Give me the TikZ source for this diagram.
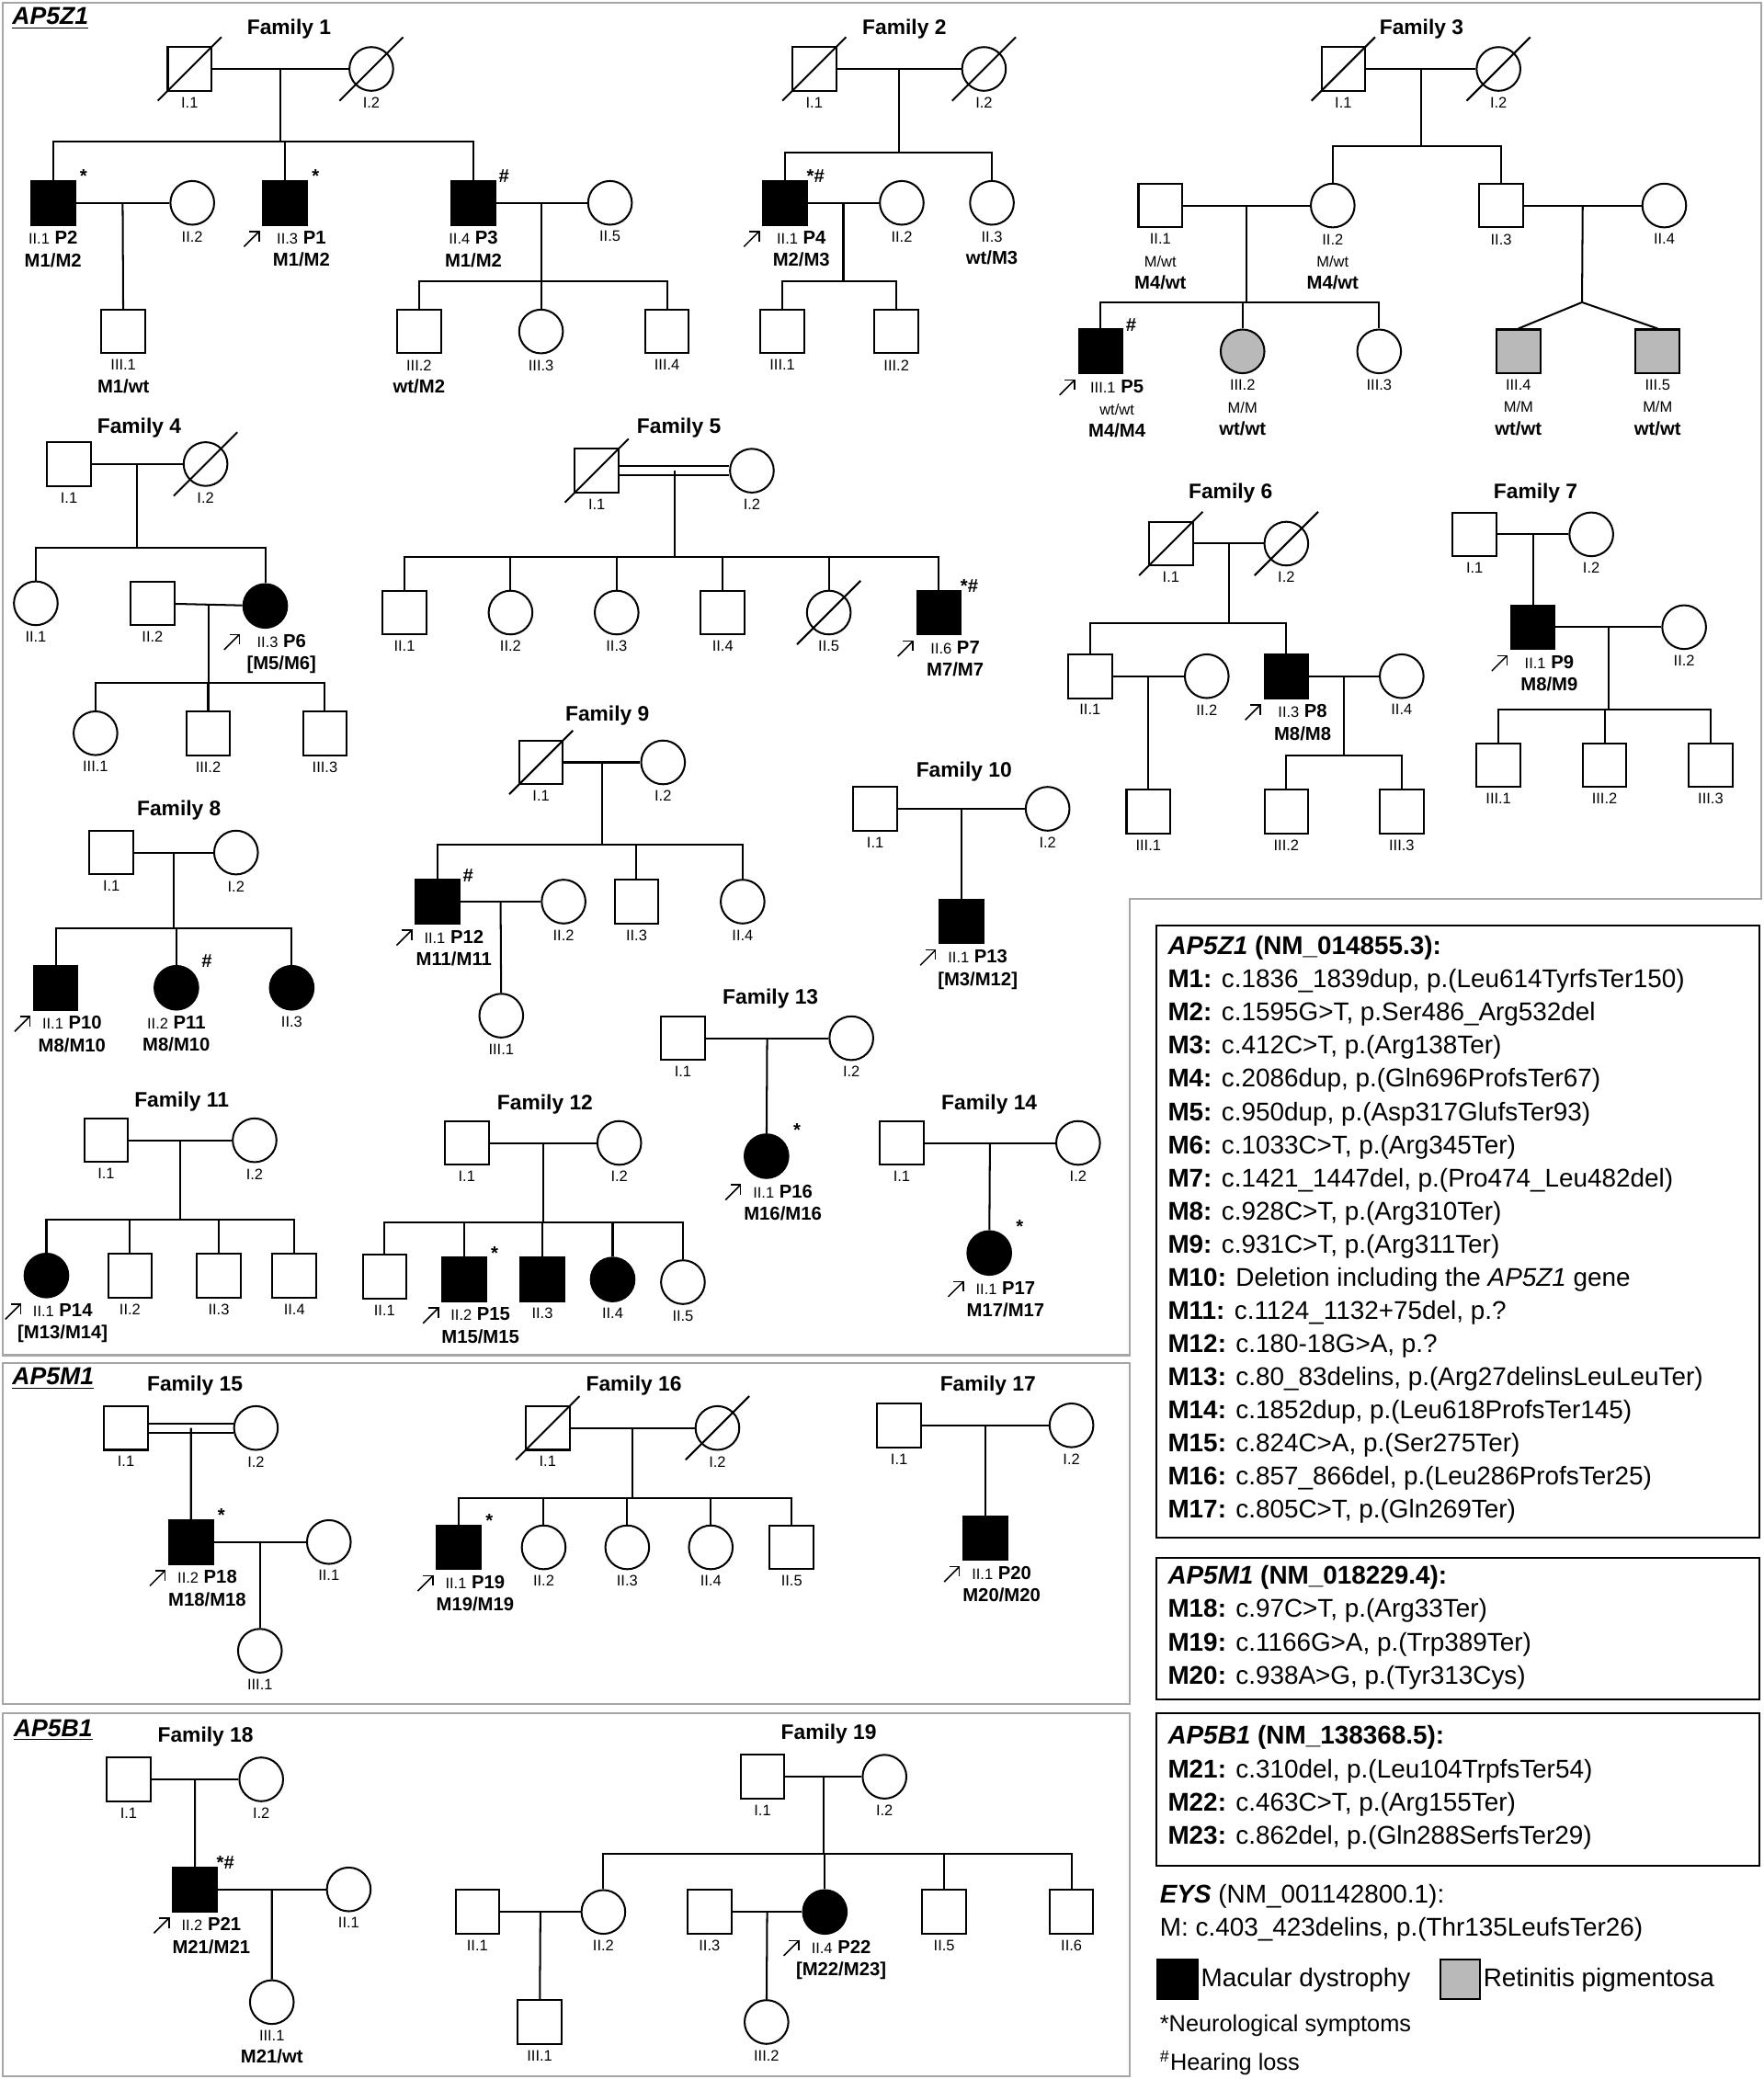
\documentclass[tikz,border=0pt]{standalone}
\usepackage{fontspec}
\setmainfont{Liberation Sans}
\usetikzlibrary{calc,arrows.meta}
\newcommand\gn[1]{{\fontsize{6.5}{8}\selectfont\mdseries #1}}
\newcommand\ind[5]{\node[#2] (#1) at (#3,#4) {}; \node[lbl] (#1t) at ([yshift=-1pt]#1.south) {#5};}
\newcommand\pind[5]{\node[#2] (#1) at (#3,#4) {}; \node[lbl] (#1t) at ([xshift=7pt,yshift=-1pt]#1.south) {#5};
  \draw[-{Straight Barb[length=3pt]},line width=0.6pt] ($(#1)+(-31,33)$) -- ($(#1)+(-19,21)$);}
\newcommand\dead[1]{\draw ($(#1)+(-24,24)$) -- ($(#1)+(24,-24)$);}
\newcommand\couple[3]{\draw (#1) -- (#2); \coordinate (#3) at ($(#1)!.5!(#2)$);}
\newcommand\kids[3]{\draw (#1) -- (#1|-0,#2); \foreach \c in {#3} {\draw (\c.north) |- (#1|-0,#2);}}
\newcommand\mk[2]{\node[mkr] at ($(#1)+(23,-20)$) {#2};}
\begin{document}
\begin{tikzpicture}[x=0.02cm,y=-0.02cm,line width=0.8pt]
  \tikzset{
    m/.style={rectangle,draw,fill=white,minimum size=0.66cm,inner sep=0},
    f/.style={circle,draw,fill=white,minimum size=0.66cm,inner sep=0},
    am/.style={m,fill=black}, af/.style={f,fill=black},
    rm/.style={m,fill=gray!55}, rf/.style={f,fill=gray!55},
    lbl/.style={anchor=north,align=center,inner sep=1pt,font=\fontsize{8}{9.6}\selectfont\bfseries},
    ttl/.style={font=\fontsize{9}{11}\selectfont\bfseries},
    mkr/.style={font=\fontsize{8}{9}\selectfont\bfseries,inner sep=0},
    pnl/.style={font=\fontsize{10.5}{12}\selectfont\bfseries\itshape},
    leg/.style={anchor=west,inner sep=0,font=\fontsize{11}{13}\selectfont},
    frame/.style={draw=gray!70,line width=1pt}
  }
  \useasboundingbox (0,0) rectangle (1330,1568);
  % panels
  \draw[frame] (2,2) -- (1328,2) -- (1328,678) -- (852,678) -- (852,1022) -- (2,1022) -- cycle;
  \draw[frame] (2,1028) rectangle (852,1285);
  \draw[frame] (2,1292) rectangle (852,1566);
  \node[pnl] at (38,14) {\underline{AP5Z1}};
  \node[pnl] at (40,1040) {\underline{AP5M1}};
  \node[pnl] at (40,1305) {\underline{AP5B1}};

  % Family 1
  \node[ttl] at (218,22) {Family 1};
  \ind{F1i1}{m}{143}{52}{\gn{I.1}} \ind{F1i2}{f}{280}{52}{\gn{I.2}}
  \dead{F1i1} \dead{F1i2} \couple{F1i1}{F1i2}{F1m}
  \ind{F1ii1}{am}{40}{153}{\gn{II.1} P2\\M1/M2} \mk{F1ii1}{*}
  \ind{F1ii2}{f}{145}{153}{\gn{II.2}}
  \pind{F1ii3}{am}{215}{153}{\gn{II.3} P1\\M1/M2} \mk{F1ii3}{*}
  \ind{F1ii4}{am}{357}{153}{\gn{II.4} P3\\M1/M2} \mk{F1ii4}{\#}
  \ind{F1ii5}{f}{460}{153}{\gn{II.5}}
  \kids{F1m}{107}{F1ii1,F1ii3,F1ii4}
  \couple{F1ii1}{F1ii2}{F1m2}
  \ind{F1iii1}{m}{93}{250}{\gn{III.1}\\M1/wt}
  \draw (F1m2) -- (F1iii1);
  \couple{F1ii4}{F1ii5}{F1m3}
  \ind{F1iii2}{m}{316}{250}{\gn{III.2}\\wt/M2} \ind{F1iii3}{f}{408}{250}{\gn{III.3}} \ind{F1iii4}{m}{503}{250}{\gn{III.4}}
  \kids{F1m3}{212}{F1iii2,F1iii3,F1iii4}

  % Family 2
  \node[ttl] at (682,22) {Family 2};
  \ind{F2i1}{m}{614}{52}{\gn{I.1}} \ind{F2i2}{f}{742}{52}{\gn{I.2}}
  \dead{F2i1} \dead{F2i2} \couple{F2i1}{F2i2}{F2m}
  \pind{F2ii1}{am}{592}{153}{\gn{II.1} P4\\M2/M3} \mk{F2ii1}{*\#}
  \ind{F2ii2}{f}{680}{153}{\gn{II.2}}
  \ind{F2ii3}{f}{748}{153}{\gn{II.3}\\wt/M3}
  \kids{F2m}{115}{F2ii1,F2ii3}
  \couple{F2ii1}{F2ii2}{F2m2}
  \ind{F2iii1}{m}{590}{250}{\gn{III.1}} \ind{F2iii2}{m}{676}{250}{\gn{III.2}}
  \kids{F2m2}{212}{F2iii1,F2iii2}

  % Family 3
  \node[ttl] at (1072,22) {Family 3};
  \ind{F3i1}{m}{1013}{52}{\gn{I.1}} \ind{F3i2}{f}{1130}{52}{\gn{I.2}}
  \dead{F3i1} \dead{F3i2} \couple{F3i1}{F3i2}{F3m}
  \ind{F3ii1}{m}{875}{155}{\gn{II.1}\\\gn{M/wt}\\M4/wt}
  \ind{F3ii2}{f}{1005}{155}{\gn{II.2}\\\gn{M/wt}\\M4/wt}
  \ind{F3ii3}{m}{1132}{155}{\gn{II.3}} \ind{F3ii4}{f}{1255}{155}{\gn{II.4}}
  \kids{F3m}{110}{F3ii2,F3ii3}
  \couple{F3ii1}{F3ii2}{F3m2}
  \pind{F3iii1}{am}{830}{265}{\gn{III.1} P5\\\gn{wt/wt}\\M4/M4} \mk{F3iii1}{\#}
  \ind{F3iii2}{rf}{937}{265}{\gn{III.2}\\\gn{M/M}\\wt/wt}
  \ind{F3iii3}{f}{1040}{265}{\gn{III.3}}
  \kids{F3m2}{228}{F3iii1,F3iii2,F3iii3}
  \couple{F3ii3}{F3ii4}{F3m3}
  \coordinate (F3tw) at (1193,228);
  \ind{F3iii4}{rm}{1145}{265}{\gn{III.4}\\\gn{M/M}\\wt/wt}
  \ind{F3iii5}{rm}{1250}{265}{\gn{III.5}\\\gn{M/M}\\wt/wt}
  \draw (F3m3) -- (F3tw) -- (F3iii4.north); \draw (F3tw) -- (F3iii5.north);

  % Family 4
  \node[ttl] at (105,323) {Family 4};
  \ind{F4i1}{m}{52}{350}{\gn{I.1}} \ind{F4i2}{f}{155}{350}{\gn{I.2}}
  \dead{F4i2} \couple{F4i1}{F4i2}{F4m}
  \ind{F4ii1}{f}{27}{455}{\gn{II.1}} \ind{F4ii2}{m}{115}{455}{\gn{II.2}}
  \pind{F4ii3}{af}{200}{457}{\gn{II.3} P6\\{[M5/M6]}}
  \kids{F4m}{413}{F4ii1,F4ii3}
  \couple{F4ii2}{F4ii3}{F4m2}
  \ind{F4iii1}{f}{72}{553}{\gn{III.1}} \ind{F4iii2}{m}{157}{553}{\gn{III.2}} \ind{F4iii3}{m}{245}{553}{\gn{III.3}}
  \kids{F4m2}{515}{F4iii1,F4iii2,F4iii3}

  % Family 5
  \node[ttl] at (512,323) {Family 5};
  \ind{F5i1}{m}{450}{355}{\gn{I.1}} \ind{F5i2}{f}{567}{355}{\gn{I.2}}
  \dead{F5i1}
  \draw ([yshift=2pt]F5i1.east) -- ([yshift=2pt]F5i2.west);
  \draw ([yshift=-2pt]F5i1.east) -- ([yshift=-2pt]F5i2.west);
  \coordinate (F5m) at ($(F5i1)!.5!(F5i2)$);
  \ind{F5ii1}{m}{305}{462}{\gn{II.1}} \ind{F5ii2}{f}{385}{462}{\gn{II.2}} \ind{F5ii3}{f}{465}{462}{\gn{II.3}}
  \ind{F5ii4}{m}{545}{462}{\gn{II.4}} \ind{F5ii5}{f}{625}{462}{\gn{II.5}}
  \pind{F5ii6}{am}{708}{462}{\gn{II.6} P7\\M7/M7} \mk{F5ii6}{*\#}
  \dead{F5ii5}
  \kids{F5m}{420}{F5ii1,F5ii2,F5ii3,F5ii4,F5ii5,F5ii6}

  % Family 6
  \node[ttl] at (928,372) {Family 6};
  \ind{F6i1}{m}{883}{410}{\gn{I.1}} \ind{F6i2}{f}{970}{410}{\gn{I.2}}
  \dead{F6i1} \dead{F6i2} \couple{F6i1}{F6i2}{F6m}
  \ind{F6ii1}{m}{822}{510}{\gn{II.1}} \ind{F6ii2}{f}{910}{510}{\gn{II.2}}
  \pind{F6ii3}{am}{970}{510}{\gn{II.3} P8\\M8/M8}
  \ind{F6ii4}{f}{1057}{510}{\gn{II.4}}
  \kids{F6m}{470}{F6ii1,F6ii3}
  \couple{F6ii1}{F6ii2}{F6m2}
  \ind{F6iii1}{m}{866}{612}{\gn{III.1}}
  \draw (F6m2) -- (F6iii1);
  \couple{F6ii3}{F6ii4}{F6m3}
  \ind{F6iii2}{m}{970}{612}{\gn{III.2}} \ind{F6iii3}{m}{1057}{612}{\gn{III.3}}
  \kids{F6m3}{570}{F6iii2,F6iii3}

  % Family 7
  \node[ttl] at (1158,372) {Family 7};
  \ind{F7i1}{m}{1112}{403}{\gn{I.1}} \ind{F7i2}{f}{1200}{403}{\gn{I.2}}
  \couple{F7i1}{F7i2}{F7m}
  \pind{F7ii1}{am}{1156}{473}{\gn{II.1} P9\\M8/M9}
  \ind{F7ii2}{f}{1270}{473}{\gn{II.2}}
  \draw (F7m) -- (F7ii1);
  \couple{F7ii1}{F7ii2}{F7m2}
  \ind{F7iii1}{m}{1130}{577}{\gn{III.1}} \ind{F7iii2}{m}{1210}{577}{\gn{III.2}} \ind{F7iii3}{m}{1290}{577}{\gn{III.3}}
  \kids{F7m2}{535}{F7iii1,F7iii2,F7iii3}

  % Family 8
  \node[ttl] at (135,611) {Family 8};
  \ind{F8i1}{m}{84}{643}{\gn{I.1}} \ind{F8i2}{f}{178}{643}{\gn{I.2}}
  \couple{F8i1}{F8i2}{F8m}
  \pind{F8ii1}{am}{42}{745}{\gn{II.1} P10\\M8/M10}
  \ind{F8ii2}{af}{133}{745}{\gn{II.2} P11\\M8/M10} \mk{F8ii2}{\#}
  \ind{F8ii3}{af}{220}{745}{\gn{II.3}}
  \kids{F8m}{700}{F8ii1,F8ii2,F8ii3}

  % Family 9
  \node[ttl] at (458,540) {Family 9};
  \ind{F9i1}{m}{408}{575}{\gn{I.1}} \ind{F9i2}{f}{500}{575}{\gn{I.2}}
  \dead{F9i1} \couple{F9i1}{F9i2}{F9m}
  \pind{F9ii1}{am}{330}{680}{\gn{II.1} P12\\M11/M11} \mk{F9ii1}{\#}
  \ind{F9ii2}{f}{425}{680}{\gn{II.2}} \ind{F9ii3}{m}{480}{680}{\gn{II.3}} \ind{F9ii4}{f}{560}{680}{\gn{II.4}}
  \kids{F9m}{637}{F9ii1,F9ii3,F9ii4}
  \couple{F9ii1}{F9ii2}{F9m2}
  \ind{F9iii1}{f}{378}{766}{\gn{III.1}}
  \draw (F9m2) -- (F9iii1);

  % Family 10
  \node[ttl] at (727,582) {Family 10};
  \ind{F10i1}{m}{660}{610}{\gn{I.1}} \ind{F10i2}{f}{790}{610}{\gn{I.2}}
  \couple{F10i1}{F10i2}{F10m}
  \pind{F10ii1}{am}{725}{695}{\gn{II.1} P13\\{[M3/M12]}}
  \draw (F10m) -- (F10ii1);

  % Family 11
  \node[ttl] at (137,831) {Family 11};
  \ind{F11i1}{m}{80}{860}{\gn{I.1}} \ind{F11i2}{f}{192}{860}{\gn{I.2}}
  \couple{F11i1}{F11i2}{F11m}
  \pind{F11ii1}{af}{35}{962}{\gn{II.1} P14\\{[M13/M14]}}
  \ind{F11ii2}{m}{98}{962}{\gn{II.2}} \ind{F11ii3}{m}{165}{962}{\gn{II.3}} \ind{F11ii4}{m}{222}{962}{\gn{II.4}}
  \kids{F11m}{920}{F11ii1,F11ii2,F11ii3,F11ii4}

  % Family 12
  \node[ttl] at (411,833) {Family 12};
  \ind{F12i1}{m}{352}{862}{\gn{I.1}} \ind{F12i2}{f}{467}{862}{\gn{I.2}}
  \couple{F12i1}{F12i2}{F12m}
  \ind{F12ii1}{m}{290}{963}{\gn{II.1}}
  \pind{F12ii2}{am}{350}{965}{\gn{II.2} P15\\M15/M15} \mk{F12ii2}{*}
  \ind{F12ii3}{am}{409}{965}{\gn{II.3}} \ind{F12ii4}{af}{462}{965}{\gn{II.4}} \ind{F12ii5}{f}{515}{967}{\gn{II.5}}
  \kids{F12m}{922}{F12ii1,F12ii2,F12ii3,F12ii4,F12ii5}

  % Family 13
  \node[ttl] at (581,753) {Family 13};
  \ind{F13i1}{m}{515}{783}{\gn{I.1}} \ind{F13i2}{f}{642}{783}{\gn{I.2}}
  \couple{F13i1}{F13i2}{F13m}
  \pind{F13ii1}{af}{578}{872}{\gn{II.1} P16\\M16/M16} \mk{F13ii1}{*}
  \draw (F13m) -- (F13ii1);

  % Family 14
  \node[ttl] at (746,833) {Family 14};
  \ind{F14i1}{m}{680}{862}{\gn{I.1}} \ind{F14i2}{f}{813}{862}{\gn{I.2}}
  \couple{F14i1}{F14i2}{F14m}
  \pind{F14ii1}{af}{746}{945}{\gn{II.1} P17\\M17/M17} \mk{F14ii1}{*}
  \draw (F14m) -- (F14ii1);

  % Family 15
  \node[ttl] at (147,1045) {Family 15};
  \ind{F15i1}{m}{95}{1077}{\gn{I.1}} \ind{F15i2}{f}{193}{1077}{\gn{I.2}}
  \draw ([yshift=2pt]F15i1.east) -- ([yshift=2pt]F15i2.west);
  \draw ([yshift=-2pt]F15i1.east) -- ([yshift=-2pt]F15i2.west);
  \coordinate (F15m) at ($(F15i1)!.5!(F15i2)$);
  \pind{F15ii2}{am}{144}{1163}{\gn{II.2} P18\\M18/M18} \mk{F15ii2}{*}
  \ind{F15ii1}{f}{248}{1163}{\gn{II.1}}
  \draw (F15m) -- (F15ii2);
  \couple{F15ii2}{F15ii1}{F15m2}
  \ind{F15iii1}{f}{196}{1245}{\gn{III.1}}
  \draw (F15m2) -- (F15iii1);

  % Family 16
  \node[ttl] at (478,1045) {Family 16};
  \ind{F16i1}{m}{413}{1077}{\gn{I.1}} \ind{F16i2}{f}{541}{1077}{\gn{I.2}}
  \dead{F16i1} \dead{F16i2} \couple{F16i1}{F16i2}{F16m}
  \pind{F16ii1}{am}{346}{1167}{\gn{II.1} P19\\M19/M19} \mk{F16ii1}{*}
  \ind{F16ii2}{f}{410}{1167}{\gn{II.2}} \ind{F16ii3}{f}{473}{1167}{\gn{II.3}}
  \ind{F16ii4}{f}{536}{1167}{\gn{II.4}} \ind{F16ii5}{m}{597}{1167}{\gn{II.5}}
  \kids{F16m}{1130}{F16ii1,F16ii2,F16ii3,F16ii4,F16ii5}

  % Family 17
  \node[ttl] at (745,1045) {Family 17};
  \ind{F17i1}{m}{678}{1075}{\gn{I.1}} \ind{F17i2}{f}{808}{1075}{\gn{I.2}}
  \couple{F17i1}{F17i2}{F17m}
  \pind{F17ii1}{am}{743}{1160}{\gn{II.1} P20\\M20/M20}
  \draw (F17m) -- (F17ii1);

  % Family 18
  \node[ttl] at (155,1310) {Family 18};
  \ind{F18i1}{m}{97}{1342}{\gn{I.1}} \ind{F18i2}{f}{197}{1342}{\gn{I.2}}
  \couple{F18i1}{F18i2}{F18m}
  \pind{F18ii2}{am}{147}{1425}{\gn{II.2} P21\\M21/M21} \mk{F18ii2}{*\#}
  \ind{F18ii1}{f}{263}{1425}{\gn{II.1}}
  \draw (F18m) -- (F18ii2);
  \couple{F18ii2}{F18ii1}{F18m2}
  \ind{F18iii1}{f}{205}{1510}{\gn{III.1}\\M21/wt}
  \draw (F18m2) -- (F18iii1);

  % Family 19
  \node[ttl] at (625,1308) {Family 19};
  \ind{F19i1}{m}{575}{1340}{\gn{I.1}} \ind{F19i2}{f}{667}{1340}{\gn{I.2}}
  \couple{F19i1}{F19i2}{F19m}
  \ind{F19ii1}{m}{360}{1442}{\gn{II.1}} \ind{F19ii2}{f}{455}{1442}{\gn{II.2}}
  \ind{F19ii3}{m}{535}{1442}{\gn{II.3}}
  \pind{F19ii4}{af}{622}{1442}{\gn{II.4} P22\\{[M22/M23]}}
  \ind{F19ii5}{m}{712}{1442}{\gn{II.5}} \ind{F19ii6}{m}{808}{1442}{\gn{II.6}}
  \kids{F19m}{1398}{F19ii2,F19ii4,F19ii5,F19ii6}
  \couple{F19ii1}{F19ii2}{F19m2}
  \ind{F19iii1}{m}{407}{1525}{\gn{III.1}}
  \draw (F19m2) -- (F19iii1);
  \couple{F19ii3}{F19ii4}{F19m3}
  \ind{F19iii2}{f}{578}{1525}{\gn{III.2}}
  \draw (F19m3) -- (F19iii2);

  % legend
  \draw (872,698) rectangle (1327,1160);
  \draw (872,1175) rectangle (1327,1282);
  \draw (872,1292) rectangle (1327,1407);
  \node[leg] at (880,715) {\textbf{\textit{AP5Z1}} \textbf{(NM\_014855.3):}};
  \foreach \t [count=\i] in {
    {\textbf{M1:} c.1836\_1839dup, p.(Leu614TyrfsTer150)},
    {\textbf{M2:} c.1595G>T, p.Ser486\_Arg532del},
    {\textbf{M3:} c.412C>T, p.(Arg138Ter)},
    {\textbf{M4:} c.2086dup, p.(Gln696ProfsTer67)},
    {\textbf{M5:} c.950dup, p.(Asp317GlufsTer93)},
    {\textbf{M6:} c.1033C>T, p.(Arg345Ter)},
    {\textbf{M7:} c.1421\_1447del, p.(Pro474\_Leu482del)},
    {\textbf{M8:} c.928C>T, p.(Arg310Ter)},
    {\textbf{M9:} c.931C>T, p.(Arg311Ter)},
    {\textbf{M10:} Deletion including the \textit{AP5Z1} gene},
    {\textbf{M11:} c.1124\_1132+75del, p.?},
    {\textbf{M12:} c.180-18G>A, p.?},
    {\textbf{M13:} c.80\_83delins, p.(Arg27delinsLeuLeuTer)},
    {\textbf{M14:} c.1852dup, p.(Leu618ProfsTer145)},
    {\textbf{M15:} c.824C>A, p.(Ser275Ter)},
    {\textbf{M16:} c.857\_866del, p.(Leu286ProfsTer25)},
    {\textbf{M17:} c.805C>T, p.(Gln269Ter)}}
    \node[leg] at (880,715+25*\i) {\t};
  \node[leg] at (880,1190) {\textbf{\textit{AP5M1}} \textbf{(NM\_018229.4):}};
  \foreach \t [count=\i] in {
    {\textbf{M18:} c.97C>T, p.(Arg33Ter)},
    {\textbf{M19:} c.1166G>A, p.(Trp389Ter)},
    {\textbf{M20:} c.938A>G, p.(Tyr313Cys)}}
    \node[leg] at (880,1190+25*\i) {\t};
  \node[leg] at (880,1310) {\textbf{\textit{AP5B1}} \textbf{(NM\_138368.5):}};
  \foreach \t [count=\i] in {
    {\textbf{M21:} c.310del, p.(Leu104TrpfsTer54)},
    {\textbf{M22:} c.463C>T, p.(Arg155Ter)},
    {\textbf{M23:} c.862del, p.(Gln288SerfsTer29)}}
    \node[leg] at (880,1311+25*\i) {\t};
  \node[leg] at (874,1430) {\textbf{\textit{EYS}} (NM\_001142800.1):};
  \node[leg] at (874,1455) {M: c.403\_423delins, p.(Thr135LeufsTer26)};
  \node[am,minimum size=0.6cm] (lgA) at (888,1493) {};
  \node[leg,anchor=west] at (905,1493) {Macular dystrophy};
  \node[rm,minimum size=0.6cm] (lgR) at (1101,1493) {};
  \node[leg,anchor=west] at (1118,1493) {Retinitis pigmentosa};
  \node[leg,font=\fontsize{10}{12}\selectfont] at (874,1528) {*Neurological symptoms};
  \node[leg,font=\fontsize{10}{12}\selectfont] at (874,1556) {\textsuperscript{\#}Hearing loss};
\end{tikzpicture}
\end{document}
